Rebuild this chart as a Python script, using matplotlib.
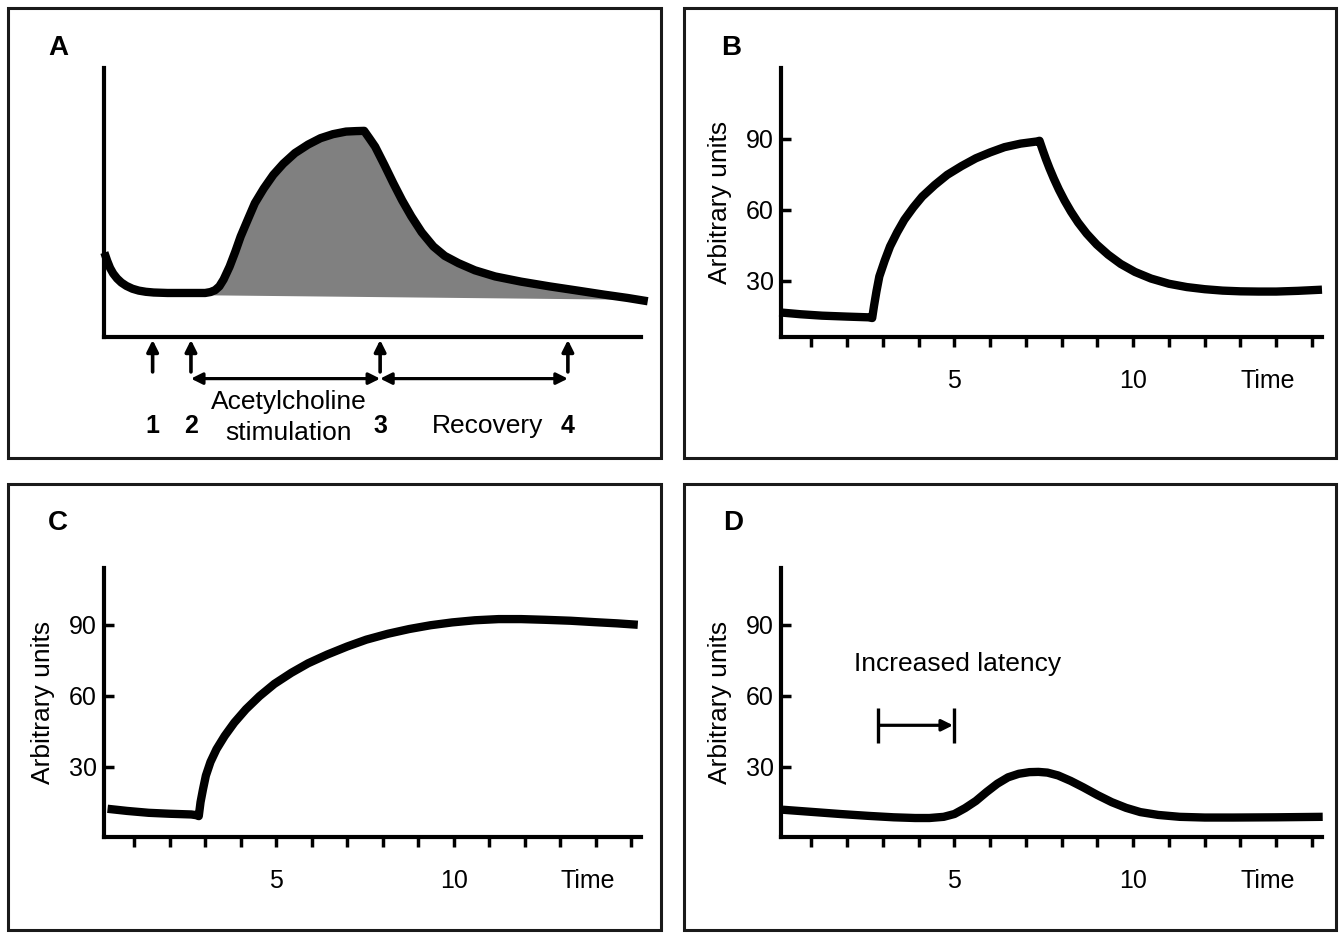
import numpy as np
import matplotlib.pyplot as plt
from matplotlib import transforms
from matplotlib.patches import Rectangle

plt.rcParams['font.family'] = ['Liberation Sans', 'DejaVu Sans']

# ---- curves (time, arbitrary units) ----
a_time = [0.16, 0.24, 0.32, 0.41, 0.52, 0.64, 0.78, 0.95, 1.13, 1.33, 1.55, 1.94, 2.5, 3.0,
          3.15, 3.28, 3.40, 3.52, 3.69, 3.85, 4.0, 4.2, 4.4, 4.65, 4.92, 5.2, 5.53, 5.9,
          6.25, 6.6, 6.97, 7.25, 7.48, 7.63, 7.79, 8.05, 8.30, 8.55, 8.81, 9.1, 9.43, 9.75,
          10.14, 10.6, 11.17, 11.9, 12.70, 13.5, 14.24, 14.9, 15.47]
a_value = [41.9, 38.4, 35.4, 33.0, 30.9, 29.2, 27.8, 26.6, 25.8, 25.3, 25.0, 24.8, 24.8, 24.8,
           25.2, 26.0, 27.6, 30.5, 36.0, 42.3, 48.7, 55.8, 62.8, 69.0, 74.8, 79.5, 84.0, 87.6,
           90.3, 92.0, 93.1, 93.3, 93.4, 90.2, 86.7, 79.0, 71.3, 64.0, 57.2, 50.5, 44.5, 40.5,
           37.4, 34.4, 31.8, 29.6, 27.6, 25.8, 24.1, 22.7, 21.3]
a_fill_from, a_fill_to = 3.15, 14.24          # shaded response area
a_base_time = [14.6, 3.15]                    # grey baseline under the response
a_base_value = [22.0, 23.8]

b_time = [0.1, 0.7, 1.3, 2.0, 2.6, 2.70, 2.75, 2.82, 2.90, 3.05, 3.20, 3.40, 3.60, 3.85, 4.10,
          4.45, 4.80, 5.20, 5.60, 6.00, 6.40, 6.85, 7.30, 7.38, 7.47, 7.56, 7.66, 7.78, 7.92,
          8.08, 8.26, 8.46, 8.70, 8.98, 9.30, 9.65, 10.05, 10.50, 11.00, 11.50, 12.00, 12.50,
          13.00, 13.50, 14.00, 14.60, 15.28]
b_value = [16.6, 15.8, 15.2, 14.8, 14.5, 14.2, 19.2, 25.5, 31.8, 38.5, 44.5, 50.5, 55.8, 61.0,
           65.6, 70.5, 74.8, 78.5, 81.8, 84.3, 86.5, 88.0, 88.9, 89.2, 85.2, 81.4, 77.5, 73.2,
           68.6, 63.9, 59.2, 54.6, 49.9, 45.3, 41.0, 37.1, 33.7, 30.9, 28.7, 27.3, 26.4, 25.8,
           25.5, 25.4, 25.4, 25.7, 26.2]

c_time = [0.25, 0.8, 1.41, 2.0, 2.61, 2.75, 2.82, 2.87, 2.94, 3.02, 3.15, 3.32, 3.55, 3.82,
          4.15, 4.53, 4.95, 5.43, 5.90, 6.44, 7.0, 7.54, 8.15, 8.75, 9.35, 9.96, 10.6, 11.27,
          11.9, 12.58, 13.3, 13.98, 14.6, 15.19]
c_value = [12.2, 11.3, 10.5, 10.1, 9.8, 9.5, 9.1, 15.0, 20.5, 26.2, 32.0, 37.4, 43.0, 48.6,
           54.3, 59.8, 65.0, 69.7, 73.7, 77.4, 80.8, 83.7, 86.2, 88.2, 89.8, 91.0, 91.9, 92.4,
           92.4, 92.1, 91.7, 91.1, 90.6, 90.0]

d_time = [0.2, 1.0, 1.8, 2.6, 3.3, 3.9, 4.3, 4.7, 5.0, 5.3, 5.6, 5.9, 6.2, 6.5, 6.8, 7.1,
          7.35, 7.6, 7.9, 8.25, 8.6, 9.0, 9.4, 9.8, 10.2, 10.7, 11.3, 12.0, 12.8, 14.0, 15.3]
d_value = [11.8, 10.9, 10.0, 9.2, 8.6, 8.3, 8.3, 8.8, 10.0, 12.5, 15.5, 19.3, 22.8, 25.5,
           27.0, 27.7, 27.8, 27.5, 26.3, 24.0, 21.3, 18.0, 15.0, 12.6, 10.8, 9.6, 8.8, 8.5,
           8.5, 8.6, 8.8]

# ---- annotations ----
a_events = [1.52, 2.60, 7.93, 13.22]
a_event_labels = ['1', '2', '3', '4']
a_phase_x = [5.36, 10.97]
latency_start, latency_end = 2.85, 5.0
latency_bar = (40, 55)
latency_arrow_v = 47.5
latency_text = (5.09, 73.6)

x_ticks = list(range(1, 16))
x_tick_labels = ['' if t not in (5, 10) else str(t) for t in x_ticks]
time_label_x = 13.77
y_ticks = [30, 60, 90]

W, H = 1344, 933
fig = plt.figure(figsize=(W / 100, H / 100), dpi=100)


def px_box(x0, y0, x1, y1):
    return [x0 / W, 1 - y1 / H, (x1 - x0) / W, (y1 - y0) / H]


for f in [(8, 8, 661, 458), (684, 8, 1336, 458), (8, 484, 661, 930), (684, 484, 1336, 930)]:
    l, b, w, h = px_box(*f)
    fig.add_artist(Rectangle((l, b), w, h, transform=fig.transFigure, fill=False,
                             lw=2.2, ec='#1a1a1a'))

ax_a = fig.add_axes(px_box(104, 68, 641, 336.7))
ax_b = fig.add_axes(px_box(781, 68, 1322, 336.7))
ax_c = fig.add_axes(px_box(104, 568, 641, 836.7))
ax_d = fig.add_axes(px_box(781, 568, 1322, 836.7))


def style(ax, ylim, ticks=True):
    ax.set_xlim(0.15, 15.28)
    ax.set_ylim(*ylim)
    ax.patch.set_visible(False)
    for s in ['top', 'right']:
        ax.spines[s].set_visible(False)
    for s in ['left', 'bottom']:
        ax.spines[s].set_linewidth(3.0)
    if not ticks:
        ax.set_xticks([])
        ax.set_yticks([])
        return
    ax.set_xticks(x_ticks)
    ax.set_xticklabels(x_tick_labels)
    ax.set_xticks([time_label_x], minor=True)
    ax.set_xticklabels(['Time'], minor=True)
    ax.tick_params(axis='x', which='major', direction='out', length=7, width=2.5,
                   pad=16, labelsize=18)
    ax.tick_params(axis='x', which='minor', length=0, pad=23, labelsize=18)
    ax.set_yticks(y_ticks)
    ax.tick_params(axis='y', direction='in', length=7, width=2.5, pad=5, labelsize=18)
    ax.set_ylabel('Arbitrary units', fontsize=19, labelpad=10)


def curve(ax, t, v):
    ax.plot(t, v, color='black', lw=6, solid_joinstyle='round', solid_capstyle='butt',
            clip_on=False, zorder=3)


style(ax_a, (6.3, 120), ticks=False)
style(ax_b, (6.3, 120))
style(ax_c, (0.4, 114))
style(ax_d, (0.4, 114))

# panel A: shaded response
at = np.array(a_time)
av = np.array(a_value)
sel = (at >= a_fill_from) & (at <= a_fill_to)
ax_a.fill(np.concatenate([at[sel], a_base_time]), np.concatenate([av[sel], a_base_value]),
          color='#808080', lw=0, zorder=2)
curve(ax_a, a_time, a_value)

trans = transforms.blended_transform_factory(ax_a.transData, ax_a.transAxes)
for t, lab in zip(a_events, a_event_labels):
    ax_a.annotate('', xy=(t, -0.012), xytext=(t, -0.131), xycoords=trans, textcoords=trans,
                  arrowprops=dict(arrowstyle='-|>', lw=2.6, color='black', mutation_scale=17,
                                  shrinkA=0, shrinkB=0), annotation_clip=False)
    ax_a.text(t, -0.333, lab, transform=trans, ha='center', va='center', fontsize=18,
              fontweight='bold')
for t0, t1 in [(a_events[1], a_events[2]), (a_events[2], a_events[3])]:
    ax_a.annotate('', xy=(t1, -0.156), xytext=(t0, -0.156), xycoords=trans, textcoords=trans,
                  arrowprops=dict(arrowstyle='<|-|>', lw=2.3, color='black', mutation_scale=17,
                                  shrinkA=0, shrinkB=0), annotation_clip=False)
ax_a.text(a_phase_x[0], -0.243, 'Acetylcholine', transform=trans, ha='center', va='center',
          fontsize=19)
ax_a.text(a_phase_x[0], -0.358, 'stimulation', transform=trans, ha='center', va='center',
          fontsize=19)
ax_a.text(a_phase_x[1], -0.333, 'Recovery', transform=trans, ha='center', va='center',
          fontsize=19)

curve(ax_b, b_time, b_value)
curve(ax_c, c_time, c_value)
curve(ax_d, d_time, d_value)

# panel D latency bracket
for t in [latency_start, latency_end]:
    ax_d.plot([t, t], latency_bar, color='black', lw=2.4, solid_capstyle='butt')
ax_d.annotate('', xy=(latency_end, latency_arrow_v), xytext=(latency_start, latency_arrow_v),
              arrowprops=dict(arrowstyle='-|>', lw=2.3, color='black', mutation_scale=17,
                              shrinkA=1, shrinkB=1))
ax_d.text(*latency_text, 'Increased latency', ha='center', va='center', fontsize=19)

for lab, (x, y) in zip('ABCD', [(58, 48), (731, 48), (58, 523), (733, 523)]):
    fig.text(x / W, 1 - y / H, lab, ha='center', va='center', fontsize=20, fontweight='bold')

fig.savefig('out.png', dpi=100, facecolor='white')
